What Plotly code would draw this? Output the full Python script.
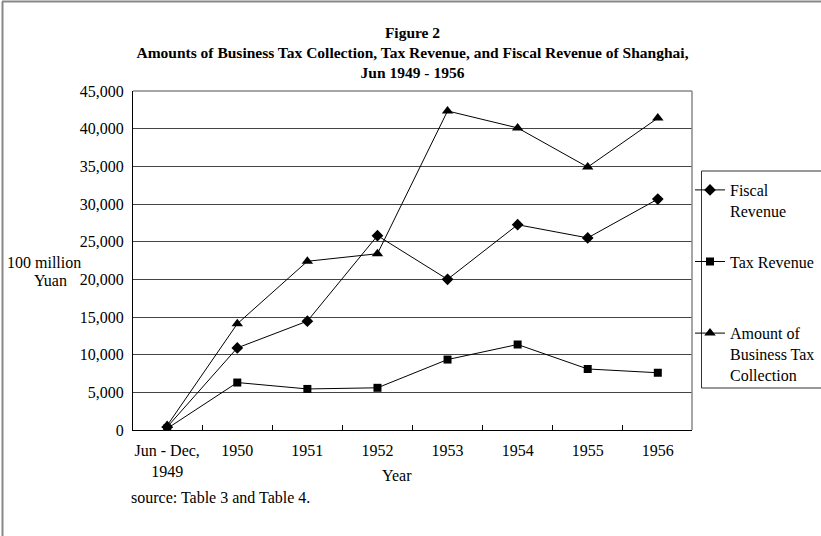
import plotly.graph_objects as go

categories = ["Jun - Dec,<br>1949", "1950", "1951", "1952", "1953", "1954", "1955", "1956"]
fiscal_revenue = [400, 10900, 14450, 25800, 20000, 27250, 25500, 30650]
tax_revenue = [200, 6300, 5450, 5600, 9350, 11350, 8100, 7600]
business_tax = [600, 14100, 22400, 23400, 42350, 40100, 34900, 41400]
y_ticks = [0, 5000, 10000, 15000, 20000, 25000, 30000, 35000, 40000, 45000]

W, H = 821, 536
L, R, T, B = 133, 692, 91, 430
PW, PH = R - L, B - T


def px(x):
    return (x - L) / PW


def py(y):
    return (B - y) / PH


FONT = "Liberation Serif, Times New Roman, serif"

fig = go.Figure()
fig.add_trace(go.Scatter(
    x=categories, y=fiscal_revenue, mode="lines+markers", name="Fiscal<br>Revenue",
    line=dict(color="black", width=1), marker=dict(symbol="diamond", size=9, color="black"),
    legendgroup="a"))
fig.add_trace(go.Scatter(
    x=categories, y=tax_revenue, mode="lines+markers", name="Tax Revenue<br> ",
    line=dict(color="black", width=1), marker=dict(symbol="square", size=8, color="black"),
    legendgroup="b"))
fig.add_trace(go.Scatter(
    x=categories, y=business_tax, mode="lines+markers", name="Amount of<br>Business Tax<br>Collection",
    line=dict(color="black", width=1), marker=dict(symbol="triangle-up", size=10, color="black"),
    legendgroup="c"))

fig.update_layout(
    width=W, height=H,
    margin=dict(l=L, r=W - R, t=T, b=H - B, autoexpand=False),
    paper_bgcolor="white", plot_bgcolor="white",
    font=dict(family=FONT, size=16, color="black"),
    title=dict(
        text="<b>Figure 2</b><br><b>Amounts of Business Tax Collection, Tax Revenue, and Fiscal Revenue of Shanghai,</b><br><b>Jun 1949 - 1956</b>",
        font=dict(family=FONT, size=15.5, color="black"),
        x=0.5, xref="paper", xanchor="center",
        y=1 - 38 / H, yref="container", yanchor="top"),
    xaxis=dict(
        type="category", tickson="boundaries", ticks="inside", ticklen=5, tickcolor="black",
        showline=True, linecolor="black", linewidth=1, showgrid=False, zeroline=False,
        tickangle=0, ticklabelstandoff=6, tickfont=dict(family=FONT, size=16)),
    yaxis=dict(
        range=[0, 45000], tickvals=y_ticks, tickformat=",", showline=True, linecolor="black",
        linewidth=1, showgrid=True, gridcolor="#444", gridwidth=1, zeroline=False, ticks="",
        ticklabelstandoff=5, tickfont=dict(family=FONT, size=16)),
    legend=dict(
        x=px(690), y=py(173), xanchor="left", yanchor="top",
        borderwidth=0, bgcolor="rgba(0,0,0,0)",
        font=dict(family=FONT, size=16), tracegroupgap=27, valign="top", itemwidth=30),
    showlegend=True,
)

# legend frame
fig.add_shape(type="rect", xref="paper", yref="paper", x0=px(701.5), x1=px(W + 10), y0=py(171), y1=py(388),
              line=dict(color="#333", width=1), fillcolor="white", layer="below")
# plot area top/right border (gray)
fig.add_shape(type="line", xref="paper", yref="paper", x0=0, x1=1, y0=1, y1=1,
              line=dict(color="#888", width=1.5))
fig.add_shape(type="line", xref="paper", yref="paper", x0=1, x1=1, y0=0, y1=1,
              line=dict(color="#888", width=1.5))
# outer chart frame (top and left visible)
fig.add_shape(type="line", xref="paper", yref="paper", x0=px(2), x1=px(W + 5), y0=py(1.5), y1=py(1.5),
              line=dict(color="#888", width=2))
fig.add_shape(type="line", xref="paper", yref="paper", x0=px(2.5), x1=px(2.5), y0=py(1.5), y1=py(H + 5),
              line=dict(color="#888", width=2))

fig.add_annotation(text="100 million", xref="paper", yref="paper", x=px(44), y=py(262),
                   showarrow=False, xanchor="center", yanchor="middle", font=dict(family=FONT, size=16))
fig.add_annotation(text="Yuan", xref="paper", yref="paper", x=px(50), y=py(280),
                   showarrow=False, xanchor="center", yanchor="middle", font=dict(family=FONT, size=16))
fig.add_annotation(text="Year", xref="paper", yref="paper", x=px(397), y=py(476),
                   showarrow=False, xanchor="center", yanchor="middle", font=dict(family=FONT, size=16))
fig.add_annotation(text="source: Table 3 and Table 4.", xref="paper", yref="paper", x=px(129), y=py(497),
                   showarrow=False, xanchor="left", yanchor="middle", font=dict(family=FONT, size=16))

fig.write_html("out.html")
